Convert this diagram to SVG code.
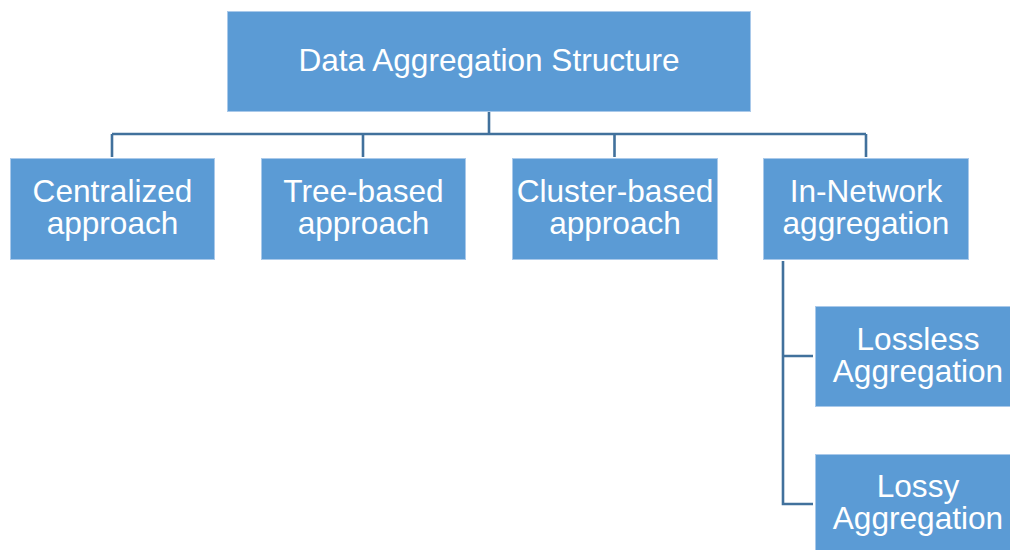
<svg xmlns="http://www.w3.org/2000/svg" width="1010" height="550" viewBox="0 0 1010 550">
<style>
.box{fill:#5b9bd5;stroke:#a9c9ea;stroke-width:1}
.t{fill:#ffffff;font-family:"Liberation Sans",Arial,sans-serif;font-size:31.6px;text-anchor:middle}
.c{fill:none;stroke:#41719c;stroke-width:2.6}
</style>
<rect width="1010" height="550" fill="#ffffff"/>
<g id="connectors">
<path class="c" d="M489 112V134M112 134H866M112 134V157M363 134V157M614.5 134V157M866 134V157"/>
<path class="c" d="M783 261V504H813M783 356H813"/>
</g>
<g id="root"><rect class="box" x="227.5" y="11.5" width="523" height="100"/><text class="t" x="489" y="71">Data Aggregation Structure</text></g>
<g id="centralized"><rect class="box" x="10.5" y="158.5" width="204" height="101"/><text class="t" x="112.5" y="202">Centralized</text><text class="t" x="112.5" y="234">approach</text></g>
<g id="tree"><rect class="box" x="261.5" y="158.5" width="204" height="101"/><text class="t" x="363.5" y="202">Tree-based</text><text class="t" x="363.5" y="234">approach</text></g>
<g id="cluster"><rect class="box" x="512.5" y="158.5" width="205" height="101"/><text class="t" x="615" y="202">Cluster-based</text><text class="t" x="615" y="234">approach</text></g>
<g id="innetwork"><rect class="box" x="763.5" y="158.5" width="205" height="101"/><text class="t" x="866" y="202">In-Network</text><text class="t" x="866" y="234">aggregation</text></g>
<g id="lossless"><rect class="box" x="815.5" y="306.5" width="205" height="100"/><text class="t" x="918" y="350">Lossless</text><text class="t" x="918" y="382">Aggregation</text></g>
<g id="lossy"><rect class="box" x="815.5" y="454.5" width="205" height="100"/><text class="t" x="918" y="497">Lossy</text><text class="t" x="918" y="529">Aggregation</text></g>
</svg>
